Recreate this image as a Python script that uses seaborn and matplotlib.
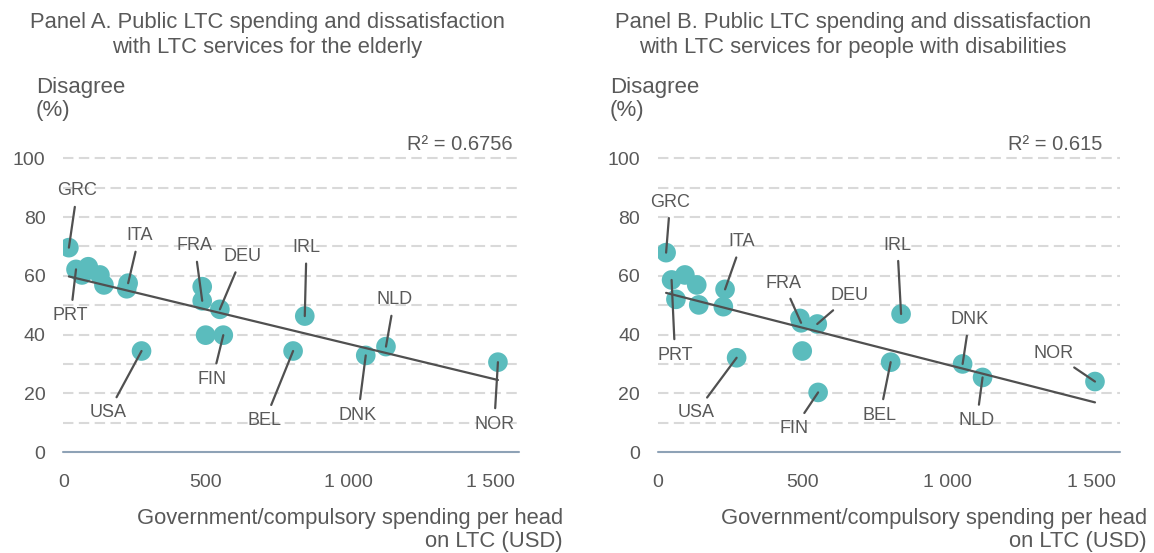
import numpy as np
import pandas as pd
import matplotlib
matplotlib.use("Agg")
import matplotlib.pyplot as plt
import seaborn as sns

# ---------------- data ----------------
a_spend = [19, 44, 65, 87, 128, 142, 227, 222, 487, 487, 549, 499, 561, 274, 806, 847, 1061, 1132, 1525]
a_disagree = [69.6, 62.2, 60.3, 63.1, 60.3, 56.9, 57.5, 55.6, 56.3, 51.5, 48.6, 39.8, 39.8, 34.4, 34.4, 46.3, 32.9, 35.9, 30.6]
a_country = ["GRC", "PRT", "", "", "", "", "ITA", "", "", "FRA", "DEU", "", "FIN", "USA", "BEL", "IRL", "DNK", "NLD", "NOR"]
a_trend = (60.24, -0.02342)   # intercept, slope
a_r2 = "R² = 0.6756"

b_spend = [28, 47, 93, 134, 62, 141, 232, 226, 491, 495, 551, 499, 272, 554, 805, 841, 1054, 1123, 1512]
b_disagree = [67.9, 58.6, 60.3, 56.9, 52.0, 50.1, 55.4, 49.5, 45.5, 44.0, 43.6, 34.4, 32.1, 20.3, 30.6, 47.0, 30.0, 25.4, 24.0]
b_country = ["GRC", "PRT", "", "", "", "", "ITA", "", "", "FRA", "DEU", "", "USA", "FIN", "BEL", "IRL", "DNK", "NLD", "NOR"]
b_trend = (54.9, -0.02513)
b_r2 = "R² = 0.615"

x_ticks = [0, 500, 1000, 1500]
x_ticklabels = ["0", "500", "1 000", "1 500"]
y_ticks = [0, 20, 40, 60, 80, 100]

title_a = "Panel A. Public LTC spending and dissatisfaction\nwith LTC services for the elderly"
title_b = "Panel B. Public LTC spending and dissatisfaction\nwith LTC services for people with disabilities"
y_title = "Disagree\n(%)"
x_title = "Government/compulsory spending per head\non LTC (USD)"

# label placements (layout, in data units)
a_label_pos = {"GRC": (48, 88.9), "PRT": (25, 46.4), "ITA": (266, 73.6), "FRA": (461, 70.2),
               "DEU": (627, 66.5), "FIN": (523, 24.8), "USA": (157, 13.4), "BEL": (707, 10.7),
               "IRL": (853, 69.6), "NLD": (1161, 51.8), "DNK": (1034, 12.6), "NOR": (1512, 9.5)}
b_label_pos = {"GRC": (42, 85.1), "ITA": (290, 71.6), "FRA": (434, 57.5), "DEU": (664, 53.2),
               "PRT": (59, 33.0), "USA": (131, 13.4), "FIN": (471, 8.1), "BEL": (768, 12.6),
               "IRL": (828, 70.5), "DNK": (1077, 45.0), "NLD": (1103, 10.7), "NOR": (1368, 33.6)}

# ---------------- style ----------------
sns.set_theme(style="white")
plt.rcParams["font.family"] = ["Liberation Sans", "DejaVu Sans"]
TXT = "#595959"
DOT = "#5BBCBD"
GRID = "#D9D9D9"
AXIS = "#8EA2B6"

fig = plt.figure(figsize=(11.54, 5.53), dpi=100)
axA = fig.add_axes([0.055, 0.1826, 0.395, 0.531])
axB = fig.add_axes([0.5702, 0.1826, 0.4007, 0.531])


def draw(ax, xs, ys, names, trend, r2, r2_x, label_pos):
    df = pd.DataFrame({"spend": xs, "disagree": ys, "country": names})
    ax.set_xlim(0, 1600)
    ax.set_ylim(0, 100)
    for yv in range(10, 101, 10):
        ax.axhline(yv, color=GRID, lw=1.5, dashes=(5, 2.6), zorder=0, clip_on=False)
    ax.axhline(0, color=AXIS, lw=1.5, zorder=1, clip_on=False)
    sns.scatterplot(data=df, x="spend", y="disagree", ax=ax, s=200, color=DOT,
                    edgecolor="none", linewidth=0, alpha=1, zorder=3, legend=False)
    xr = np.array([min(xs), max(xs)])
    ax.plot(xr, trend[0] + trend[1] * xr, color="#505050", lw=1.6, zorder=4)
    for _, row in df.iterrows():
        if row["country"]:
            tx, ty = label_pos[row["country"]]
            ax.annotate(row["country"], xy=(row["spend"], row["disagree"]), xytext=(tx, ty),
                        ha="center", va="center", fontsize=13, color=TXT, zorder=5,
                        annotation_clip=False,
                        arrowprops=dict(arrowstyle="-", color="#505050", lw=1.6,
                                        shrinkA=3, shrinkB=0))
    for s in ax.spines.values():
        s.set_visible(False)
    ax.set_xticks(x_ticks)
    ax.set_xticklabels(x_ticklabels)
    ax.set_yticks(y_ticks)
    ax.tick_params(axis="both", length=0, labelsize=14, labelcolor=TXT)
    ax.tick_params(axis="x", pad=16)
    ax.tick_params(axis="y", pad=13)
    ax.set_xlabel("")
    ax.set_ylabel("")
    ax.text(r2_x, 1.048, r2, transform=ax.transAxes, ha="right", va="center",
            fontsize=14.5, color=TXT)


draw(axA, a_spend, a_disagree, a_country, a_trend, a_r2, 0.986, a_label_pos)
draw(axB, b_spend, b_disagree, b_country, b_trend, b_r2, 0.962, b_label_pos)

# titles and axis titles
fig.text(267 / 1154, 1 - 35 / 553, title_a, ha="center", va="center", fontsize=15.8,
         color=TXT, linespacing=1.22)
fig.text(853 / 1154, 1 - 35 / 553, title_b, ha="center", va="center", fontsize=15.8,
         color=TXT, linespacing=1.22)
fig.text(36 / 1154, 1 - 99 / 553, y_title, ha="left", va="center", fontsize=16,
         color=TXT, linespacing=1.15)
fig.text(610 / 1154, 1 - 99 / 553, y_title, ha="left", va="center", fontsize=16,
         color=TXT, linespacing=1.15)
fig.text(563 / 1154, 1 - 530 / 553, x_title, ha="right", va="center", fontsize=15.8,
         color=TXT, linespacing=1.12, multialignment="right")
fig.text(1147 / 1154, 1 - 530 / 553, x_title, ha="right", va="center", fontsize=15.8,
         color=TXT, linespacing=1.12, multialignment="right")

fig.savefig("out.png", dpi=100)
